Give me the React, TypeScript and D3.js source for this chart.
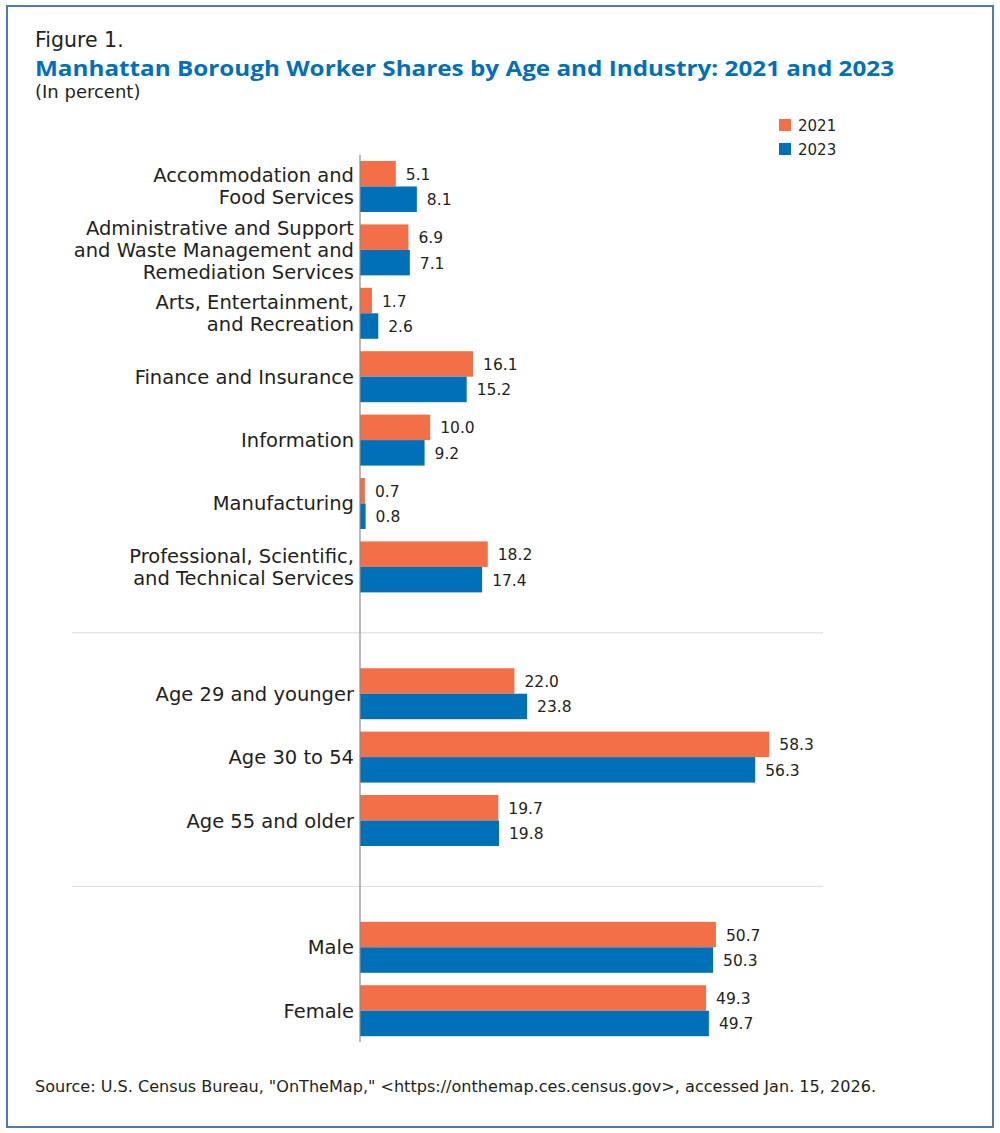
import { useEffect } from 'react';
import * as d3 from 'd3';

const years = ['2021', '2023'];
const colors = ['#F26F48', '#0070B8'];

const industryLabels = [
  'Accommodation and|Food Services',
  'Administrative and Support|and Waste Management and|Remediation Services',
  'Arts, Entertainment,|and Recreation',
  'Finance and Insurance',
  'Information',
  'Manufacturing',
  'Professional, Scientific,|and Technical Services',
];
const industry2021 = [5.1, 6.9, 1.7, 16.1, 10.0, 0.7, 18.2];
const industry2023 = [8.1, 7.1, 2.6, 15.2, 9.2, 0.8, 17.4];

const ageLabels = ['Age 29 and younger', 'Age 30 to 54', 'Age 55 and older'];
const age2021 = [22.0, 58.3, 19.7];
const age2023 = [23.8, 56.3, 19.8];

const sexLabels = ['Male', 'Female'];
const sex2021 = [50.7, 49.3];
const sex2023 = [50.3, 49.7];

const FONT = "'DejaVu Sans', 'Open Sans', sans-serif";
const TITLE_FONT = "'Open Sans', 'Noto Sans', sans-serif";

interface Row {
  key: string;
  label: string;
  values: number[];
}

const rows: (Row | null)[] = [
  ...industryLabels.map((l, i) => ({ key: 'i' + i, label: l, values: [industry2021[i], industry2023[i]] })),
  null,
  ...ageLabels.map((l, i) => ({ key: 'a' + i, label: l, values: [age2021[i], age2023[i]] })),
  null,
  ...sexLabels.map((l, i) => ({ key: 's' + i, label: l, values: [sex2021[i], sex2023[i]] })),
];
const slotKeys = rows.map((r, i) => (r ? r.key : 'gap' + i));

export default function App() {
  useEffect(() => {
    document.body.style.margin = '0';
  }, []);

  const width = 1000;
  const height = 1133;

  const x = d3.scaleLinear().domain([0, 60]).range([360, 781.2]);
  const y = d3.scaleBand<string>().domain(slotKeys).range([161, 1036.2]).paddingInner(0.196).paddingOuter(0);
  const sub = d3.scaleBand<string>().domain(years).range([0, y.bandwidth()]);

  return (
    <svg width={width} height={height} style={{ display: 'block', fontFamily: FONT }}>
      <rect x={0} y={0} width={width} height={height} fill="#fff" />
      <rect x={7} y={6} width={986} height={1121} fill="none" stroke="#4A7BB5" strokeWidth={2} />

      <text x={35} y={47} fontSize={20.5} fill="#231F20">Figure 1.</text>
      <text x={35} y={76} fontSize={21} fontWeight={700} fill="#0070B8" fontFamily={TITLE_FONT} textLength={859} lengthAdjust="spacingAndGlyphs">
        Manhattan Borough Worker Shares by Age and Industry: 2021 and 2023
      </text>
      <text x={35} y={98} fontSize={18} fill="#231F20">(In percent)</text>

      {years.map((yr, i) => (
        <g key={yr}>
          <rect x={779} y={119 + i * 24} width={12} height={12} fill={colors[i]} />
          <text x={798} y={131 + i * 24} fontSize={15} fill="#231F20">{yr}</text>
        </g>
      ))}

      {rows.map((r, i) => {
        const key = slotKeys[i];
        const y0 = y(key)!;
        if (!r) {
          const ly = y0 + y.bandwidth() / 2 + 2.5;
          return <line key={key} x1={72} x2={823} y1={ly} y2={ly} stroke="#DCDCDC" strokeWidth={1} />;
        }
        const lines = r.label.split('|');
        const cy = y0 + y.bandwidth() / 2;
        const lh = 22;
        return (
          <g key={key}>
            {lines.map((ln, j) => (
              <text
                key={j}
                x={354}
                y={cy + 7 + (j - (lines.length - 1) / 2) * lh}
                textAnchor="end"
                fontSize={19.5}
                fill="#231F20"
              >
                {ln}
              </text>
            ))}
            {r.values.map((v, k) => {
              const by = y0 + sub(years[k])!;
              return (
                <g key={k}>
                  <rect x={x(0)} y={by} width={x(v) - x(0)} height={sub.bandwidth()} fill={colors[k]} />
                  <text x={x(v) + 10} y={by + sub.bandwidth() / 2 + 6} fontSize={15.5} fill="#231F20">
                    {v.toFixed(1)}
                  </text>
                </g>
              );
            })}
          </g>
        );
      })}

      <line x1={x(0)} x2={x(0)} y1={155} y2={1042} stroke="#8C8C8C" strokeWidth={1.2} />

      <text x={35} y={1092} fontSize={15} fill="#231F20" textLength={841} lengthAdjust="spacingAndGlyphs">
        Source: U.S. Census Bureau, "OnTheMap," &lt;https://onthemap.ces.census.gov&gt;, accessed Jan. 15, 2026.
      </text>
    </svg>
  );
}
